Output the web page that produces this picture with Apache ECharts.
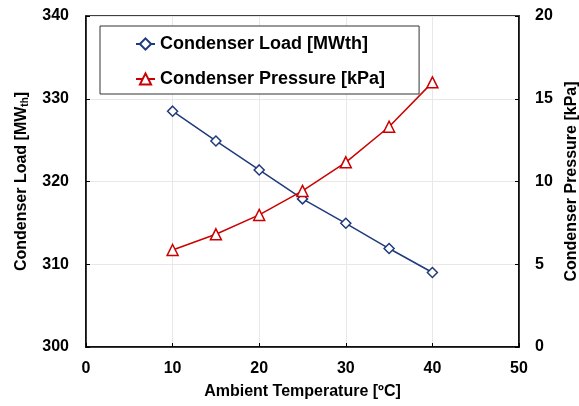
<!DOCTYPE html>
<html><head><meta charset="utf-8">
<script src="https://cdn.jsdelivr.net/npm/echarts@6/dist/echarts.min.js"></script>
<style>html,body{margin:0;padding:0;background:#fff}#c{width:579px;height:406px}</style>
</head><body><div id="c"></div>
<script>
var temps = [10, 15, 20, 25, 30, 35, 40];
var loadValues = [328.5, 324.9, 321.4, 317.9, 314.95, 311.9, 309.0];
var pressureValues = [5.86, 6.81, 7.98, 9.43, 11.16, 13.31, 15.99];
var loadName = 'Condenser Load [MWth]';
var pressureName = 'Condenser Pressure [kPa]';

var font = 'Liberation Sans, Arial, sans-serif';
var chart = echarts.init(document.getElementById('c'), null, {renderer: 'canvas'});
function pairs(xs, ys){ return xs.map(function(x,i){return [x, ys[i]];}); }
chart.setOption({
  animation: false,
  grid: {left: 86, right: 60, top: 16, bottom: 59, show: true, borderColor: '#000', borderWidth: 1.5,
         containLabel: false, outerBoundsMode: 'none'},
  legend: {
    show: true, orient: 'vertical', left: 100, top: 26,
    padding: [9, 34, 6, 35], itemGap: 17, itemWidth: 19, itemHeight: 14,
    borderColor: '#333', borderWidth: 1, backgroundColor: '#fff',
    textStyle: {fontFamily: font, fontWeight: 'bold', fontSize: 18, color: '#000'},
    data: [loadName, pressureName]
  },
  xAxis: {
    type: 'value', min: 0, max: 50, interval: 10,
    name: 'Ambient Temperature [ºC]', nameLocation: 'middle', nameGap: 37,
    nameTextStyle: {fontFamily: font, fontWeight: 'bold', fontSize: 16, color: '#000'},
    axisLine: {lineStyle: {color: '#000', width: 1.5}},
    axisTick: {inside: true, length: 4, lineStyle: {color: '#000'}},
    axisLabel: {fontFamily: font, fontWeight: 'bold', fontSize: 16, color: '#000', margin: 14},
    splitLine: {show: true, lineStyle: {color: '#e8e8e8', width: 1}}
  },
  yAxis: [{
    type: 'value', min: 300, max: 340, interval: 10, position: 'left',
    name: '{a|Condenser Load [MW}{s|th}{a|]}', nameLocation: 'middle', nameGap: 56, nameRotate: 90,
    nameTextStyle: {rich: {
      a: {fontFamily: font, fontWeight: 'bold', fontSize: 16, color: '#000'},
      s: {fontFamily: font, fontWeight: 'bold', fontSize: 10, color: '#000', verticalAlign: 'bottom', padding: [7,0,0,0]}
    }},
    axisLine: {show: true, lineStyle: {color: '#000', width: 1.5}},
    axisTick: {show: true, inside: true, length: 4, lineStyle: {color: '#000'}},
    axisLabel: {fontFamily: font, fontWeight: 'bold', fontSize: 16, color: '#000', margin: 17},
    splitLine: {show: true, lineStyle: {color: '#e8e8e8', width: 1}}
  }, {
    type: 'value', min: 0, max: 20, interval: 5, position: 'right',
    name: pressureName, nameLocation: 'middle', nameGap: 42, nameRotate: 90,
    nameTextStyle: {fontFamily: font, fontWeight: 'bold', fontSize: 16, color: '#000'},
    axisLine: {show: true, lineStyle: {color: '#000', width: 1.5}},
    axisTick: {show: true, inside: true, length: 4, lineStyle: {color: '#000'}},
    axisLabel: {fontFamily: font, fontWeight: 'bold', fontSize: 16, color: '#000', margin: 16},
    splitLine: {show: false}
  }],
  series: [{
    name: loadName, type: 'line', yAxisIndex: 0, data: pairs(temps, loadValues),
    symbol: 'diamond', symbolSize: 10,
    lineStyle: {color: '#1f3b7c', width: 1.5},
    itemStyle: {color: '#fff', borderColor: '#1f3b7c', borderWidth: 1.5}
  }, {
    name: pressureName, type: 'line', yAxisIndex: 1, data: pairs(temps, pressureValues),
    symbol: 'triangle', symbolSize: 11,
    lineStyle: {color: '#cc0000', width: 1.5},
    itemStyle: {color: '#fff', borderColor: '#cc0000', borderWidth: 1.5}
  }]
});
</script></body></html>
